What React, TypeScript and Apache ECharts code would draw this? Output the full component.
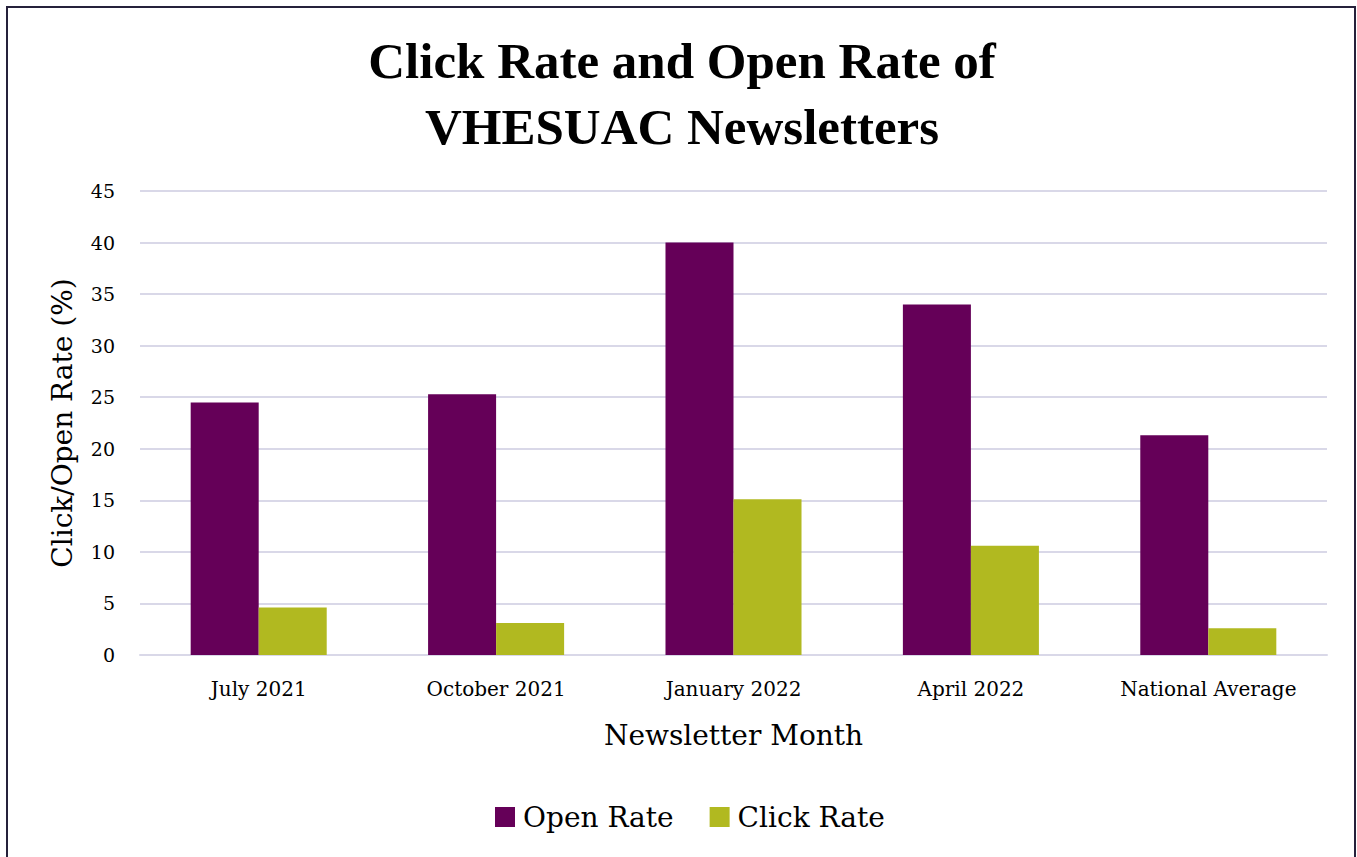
import React, { useEffect, useRef } from "react";
import * as echarts from "echarts";

const categories = ["July 2021", "October 2021", "January 2022", "April 2022", "National Average"];
const openRate = [24.5, 25.3, 40.0, 34.0, 21.3];
const clickRate = [4.6, 3.1, 15.1, 10.6, 2.6];
const yTicks = { min: 0, max: 45, interval: 5 };

const TITLE_FONT = "'Palatino Linotype', 'Book Antiqua', Palatino, 'Liberation Serif', serif";
const FONT = "'Palatino Linotype', 'Book Antiqua', Palatino, 'DejaVu Serif', serif";

export default function App() {
  const ref = useRef<HTMLDivElement>(null);
  useEffect(() => {
    if (!ref.current) return;
    const chart = echarts.init(ref.current, undefined, { renderer: "svg" });
    chart.setOption({
      animation: false,
      backgroundColor: "#ffffff",
      textStyle: { fontFamily: FONT, color: "#000" },
      title: {
        text: "Click Rate and Open Rate of\nVHESUAC Newsletters",
        left: 677,
        top: 23,
        textAlign: "center",
        textStyle: { fontFamily: TITLE_FONT, fontSize: 51, fontWeight: "bold", color: "#000", lineHeight: 66 },
      },
      graphic: [
        {
          type: "rect",
          shape: { x: 7, y: 7, width: 1348, height: 870 },
          style: { fill: "none", stroke: "#25213b", lineWidth: 2 },
          silent: true,
        },
      ],
      legend: {
        data: ["Open Rate", "Click Rate"],
        left: 490,
        top: 798,
        itemWidth: 20,
        itemHeight: 20,
        itemGap: 36,
        icon: "rect",
        textStyle: { fontFamily: FONT, fontSize: 28, color: "#000", padding: [0, 0, 0, 3] },
      },
      grid: { left: 140, right: 30, top: 191, bottom: 202, containLabel: false },
      xAxis: {
        type: "category",
        data: categories,
        axisLine: { show: true, lineStyle: { color: "#d9d8e8", width: 2 } },
        axisTick: { show: false },
        axisLabel: { fontFamily: FONT, fontSize: 20, color: "#000", margin: 24 },
        name: "Newsletter Month",
        nameLocation: "middle",
        nameGap: 66,
        nameTextStyle: { fontFamily: FONT, fontSize: 28, color: "#000" },
      },
      yAxis: {
        type: "value",
        min: yTicks.min,
        max: yTicks.max,
        interval: yTicks.interval,
        axisLine: { show: false },
        axisTick: { show: false },
        splitLine: { lineStyle: { color: "#d9d8e8", width: 2 } },
        axisLabel: { fontFamily: FONT, fontSize: 19, color: "#000", margin: 25 },
        name: "Click/Open Rate (%)",
        nameLocation: "middle",
        nameGap: 64,
        nameRotate: 90,
        nameTextStyle: { fontFamily: FONT, fontSize: 28, color: "#000" },
      },
      series: [
        {
          name: "Open Rate",
          type: "bar",
          data: openRate,
          barGap: "0%",
          barCategoryGap: "42.7%",
          itemStyle: { color: "#650058" },
        },
        {
          name: "Click Rate",
          type: "bar",
          data: clickRate,
          itemStyle: { color: "#b1b920" },
        },
      ],
    });
    return () => chart.dispose();
  }, []);
  return (
    <div
      ref={ref}
      style={{ position: "absolute", left: 0, top: 0, width: 1357, height: 857 }}
    />
  );
}
